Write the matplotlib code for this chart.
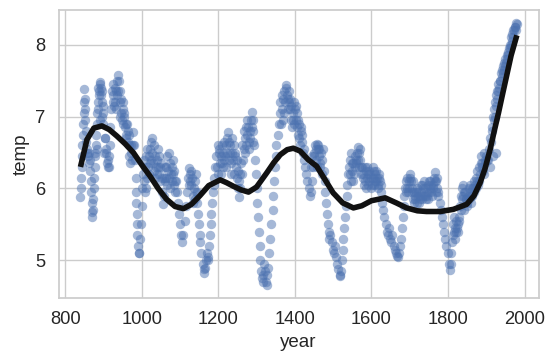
import matplotlib
matplotlib.use("Agg")
import matplotlib.pyplot as plt
import seaborn as sns

# scatter data (year, temp): main trace
year = [
    840, 841, 842, 843, 844, 845, 846, 847, 848, 849, 850, 851, 852, 853, 854, 855, 857, 860, 862, 864,
    866, 867, 868, 869, 870, 871, 873, 874, 875, 876, 877, 878, 880, 881, 882, 884, 886, 888, 890, 892,
    894, 896, 898, 900, 903, 906, 909, 912, 914, 916, 918, 920, 922, 924, 926, 928, 930, 933, 936, 938,
    940, 942, 944, 946, 948, 950, 952, 954, 956, 958, 960, 962, 964, 966, 968, 970, 972, 974, 976, 978,
    980, 982, 984, 985, 986, 987, 988, 989, 990, 992, 994, 996, 998, 1000, 1002, 1004, 1006, 1008,
    1010, 1013, 1016, 1019, 1022, 1025, 1028, 1031, 1034, 1037, 1040, 1043, 1046, 1049, 1052,
    1054, 1056, 1058, 1061, 1064, 1067, 1070, 1073, 1076, 1079, 1082, 1085, 1088, 1091,
    1094, 1097, 1100, 1103, 1106, 1109, 1112, 1115, 1118, 1121, 1124, 1127, 1130, 1133, 1136, 1139,
    1142, 1145, 1147, 1149, 1151, 1153, 1156, 1159, 1162, 1164, 1166, 1168, 1170, 1172, 1174, 1176,
    1178, 1180, 1182, 1184, 1186, 1188, 1190, 1192, 1195, 1198, 1201, 1204, 1207, 1210, 1213, 1216,
    1219, 1222, 1225, 1228, 1231, 1234, 1237, 1240, 1243, 1246, 1249, 1252, 1255, 1258, 1261,
    1264, 1267, 1270, 1273, 1276, 1279, 1282, 1285, 1288, 1290, 1292, 1294, 1296, 1298, 1300,
    1302, 1304, 1306, 1308, 1310, 1312, 1314, 1316, 1318, 1320, 1322, 1324, 1326, 1328,
    1330, 1333, 1336, 1339, 1342, 1344, 1346, 1348, 1350, 1352, 1355, 1358, 1361, 1364, 1367, 1370,
    1373, 1376, 1379, 1382, 1385, 1388, 1391, 1394, 1397, 1400, 1403, 1406, 1409, 1412, 1415, 1418,
    1421, 1424, 1427, 1430, 1433, 1436, 1439, 1442, 1445, 1448, 1451, 1454, 1457, 1460, 1463, 1466,
    1469, 1472, 1475, 1478, 1480, 1482, 1484, 1486, 1488, 1490, 1493, 1496, 1499, 1502, 1505, 1508,
    1511, 1514, 1517, 1519, 1521, 1523, 1525, 1527, 1529, 1531, 1533, 1535, 1537, 1539, 1541, 1544,
    1547, 1550, 1553, 1556, 1559, 1562, 1565, 1568, 1571, 1574, 1577, 1580, 1583, 1586, 1589, 1592,
    1595, 1598, 1601, 1604, 1607, 1610, 1613, 1616, 1619, 1622, 1625, 1628, 1631, 1634, 1637, 1640,
    1643, 1646, 1649, 1652, 1655, 1658, 1661, 1664, 1667, 1670, 1673, 1676, 1678, 1680, 1682, 1684,
    1686, 1688, 1691, 1694, 1697, 1700, 1703, 1706, 1709, 1712, 1715, 1718, 1721, 1724, 1727, 1730,
    1733, 1736, 1739, 1742, 1745, 1748, 1751, 1754, 1757, 1760, 1763, 1766, 1769, 1772, 1775, 1778,
    1781, 1784, 1787, 1790, 1793, 1796, 1799, 1802, 1805, 1807, 1809, 1811, 1813, 1816, 1819, 1822,
    1825, 1828, 1831, 1834, 1837, 1840, 1843, 1846, 1849, 1852, 1855, 1858, 1861, 1864, 1867, 1870,
    1873, 1876, 1880, 1884, 1888, 1892, 1896, 1900, 1902, 1905, 1908, 1911, 1914, 1917, 1920, 1923,
    1926, 1929, 1932, 1935, 1938, 1941, 1944, 1947, 1950, 1953, 1956, 1959, 1962, 1965, 1968, 1971,
    1974, 1977, 1980, 1886, 1894, 1910, 1918, 1926,
]
temp = [
    5.88, 6.0, 6.15, 6.3, 6.45, 6.6, 6.75, 6.9, 7.05, 7.2, 7.38, 7.25, 7.1, 6.95, 6.8, 6.65, 6.5, 6.45, 6.5, 6.4,
    6.25, 6.1, 5.95, 5.8, 5.68, 5.6, 5.7, 5.85, 6.0, 6.15, 6.3, 6.45, 6.6, 6.75, 6.9, 7.05, 7.2, 7.35, 7.48, 7.45,
    7.3, 7.2, 7.05, 6.9, 6.7, 6.5, 6.35, 6.3, 6.45, 6.6, 6.85, 7.1, 7.35, 7.45, 7.3, 7.15, 7.2, 7.35, 7.5, 7.58,
    7.5, 7.35, 7.2, 7.05, 6.95, 7.1, 7.2, 7.0, 6.85, 6.7, 6.75, 6.9, 6.8, 6.6, 6.45, 6.35, 6.5, 6.4, 6.6, 6.78,
    6.6, 6.4, 6.15, 5.95, 5.8, 5.65, 5.5, 5.35, 5.2, 5.1, 5.1, 5.3, 5.5, 5.75, 6.0, 6.2, 6.1, 5.95,
    6.0, 6.15, 6.3, 6.45, 6.55, 6.65, 6.7, 6.6, 6.45, 6.3, 6.4, 6.55, 6.45, 6.3, 6.15,
    5.95, 5.78, 5.9, 6.1, 6.3, 6.45, 6.5, 6.35, 6.2, 6.3, 6.4, 6.25, 6.1, 5.95,
    5.8, 5.65, 5.5, 5.35, 5.25, 5.35, 5.55, 5.75, 5.95, 6.15, 6.28, 6.2, 6.05, 5.9, 6.0, 6.1,
    5.95, 5.8, 5.65, 5.5, 5.35, 5.25, 5.1, 4.95, 4.88, 4.83, 4.9, 5.0, 5.1, 5.0, 5.05, 5.2,
    5.35, 5.5, 5.65, 5.8, 5.95, 6.05, 6.15, 6.3, 6.45, 6.6, 6.5, 6.35, 6.2, 6.35, 6.5, 6.65,
    6.6, 6.7, 6.78, 6.65, 6.5, 6.35, 6.5, 6.6, 6.45, 6.3, 6.15, 6.0, 5.88, 6.0, 6.2,
    6.4, 6.55, 6.7, 6.85, 6.75, 6.65, 6.8, 6.95, 7.07, 6.95, 6.8, 6.6, 6.4, 6.2, 6.0,
    5.8, 5.6, 5.4, 5.2, 5.0, 4.85, 4.75, 4.7, 4.8, 4.95, 4.85, 4.7, 4.66, 4.8,
    4.9, 5.1, 5.3, 5.5, 5.7, 5.9, 6.1, 6.3, 6.45, 6.6, 6.75, 6.9, 7.05, 6.9, 7.1, 7.25,
    7.35, 7.44, 7.3, 7.1, 7.2, 7.1, 6.95, 7.05, 7.2, 7.1, 6.95, 6.85, 6.75, 6.9, 6.8, 6.65,
    6.5, 6.4, 6.3, 6.2, 6.1, 6.0, 5.9, 5.95, 6.1, 6.3, 6.45, 6.55, 6.62, 6.55, 6.45, 6.35,
    6.5, 6.4, 6.25, 6.1, 5.95, 5.8, 5.65, 5.5, 5.4, 5.3, 5.35, 5.25, 5.15, 5.1, 5.2, 5.05,
    4.95, 4.88, 4.8, 4.78, 4.85, 5.0, 5.15, 5.3, 5.45, 5.6, 5.75, 5.9, 6.05, 6.2, 6.3, 6.2,
    6.1, 6.25, 6.35, 6.45, 6.4, 6.5, 6.57, 6.5, 6.4, 6.3, 6.15, 6.05, 6.1, 6.25, 6.3, 6.2,
    6.1, 6.0, 6.05, 6.15, 6.25, 6.2, 6.1, 6.0, 6.15, 6.1, 5.95, 5.8, 5.7, 5.6, 5.5, 5.4,
    5.35, 5.45, 5.3, 5.25, 5.35, 5.2, 5.15, 5.1, 5.06, 5.05, 5.1, 5.2, 5.3, 5.45, 5.6, 5.75,
    5.9, 6.0, 6.1, 6.0, 6.1, 6.2, 6.1, 5.95, 5.85, 5.8, 5.9, 6.0, 5.9, 5.8, 5.85, 5.95,
    6.05, 6.0, 5.9, 5.85, 5.95, 6.05, 6.1, 6.0, 5.95, 6.05, 6.15, 6.23, 6.1, 6.0, 5.9, 5.8,
    5.7, 5.6, 5.5, 5.4, 5.3, 5.2, 5.1, 4.95, 4.86, 4.95, 5.1, 5.25, 5.35, 5.4, 5.3, 5.4,
    5.5, 5.6, 5.75, 5.9, 6.0, 6.05, 5.95, 5.85, 5.8, 5.9, 6.0, 5.95, 5.9, 6.0, 6.1, 6.05,
    6.15, 6.25, 6.1, 6.2, 6.3, 6.25, 6.35, 6.45, 6.4, 6.4, 6.55, 6.7, 6.85, 7.0, 7.1, 7.2,
    7.3, 7.35, 7.45, 7.5, 7.6, 7.65, 7.7, 7.75, 7.8, 7.85, 7.9, 7.95, 8.0, 8.1, 8.15, 8.2,
    8.25, 8.3, 8.28, 6.35, 6.5, 6.3, 6.45, 6.5,
]

# extra points filling the dense clusters
year_fill = [
    858, 863, 879, 883, 885, 887, 889, 891, 893, 895, 897, 899, 902, 905, 908, 911, 915,
    925, 929, 932, 935, 939, 943, 947, 951, 955, 959, 963, 967, 971,
    1005, 1009, 1012, 1015, 1018, 1021, 1024, 1027, 1030, 1033, 1036, 1039, 1042, 1045, 1048, 1051,
    1057, 1060, 1063, 1066, 1069, 1072, 1075, 1078, 1081, 1084, 1087, 1090,
    1123, 1126, 1129, 1132, 1135, 1138, 1141, 1144,
    1197, 1200, 1203, 1206, 1209, 1212, 1215, 1218, 1221, 1224, 1227, 1230, 1233, 1236, 1239, 1242,
    1245, 1248, 1251, 1254, 1257, 1260, 1263, 1266, 1269, 1272, 1275, 1278, 1281, 1284, 1287, 1291,
    1362, 1366, 1369, 1372, 1375, 1378, 1381, 1384, 1387, 1390, 1393, 1396, 1399, 1402, 1405, 1408,
    1411, 1414, 1417, 1420, 1423,
    1443, 1446, 1449, 1452, 1455, 1458, 1461, 1464, 1467, 1470, 1473,
    1543, 1546, 1549, 1552, 1555, 1558, 1561, 1564, 1567, 1570, 1573, 1576, 1579, 1582, 1585, 1588,
    1591, 1594, 1597, 1600, 1603, 1606, 1609, 1612, 1615, 1618, 1621, 1624,
    1690, 1693, 1696, 1699, 1702, 1705, 1708, 1711, 1714, 1717, 1720, 1723, 1726, 1729, 1732, 1735,
    1738, 1741, 1744, 1747, 1750, 1753, 1756, 1759, 1762, 1765, 1768, 1771, 1774,
    1812, 1815, 1818, 1821, 1824, 1827, 1830, 1833, 1836, 1839, 1842, 1845, 1848, 1851, 1854, 1857,
    1860, 1863, 1866, 1869, 1872, 1875, 1878, 1882, 1886, 1890, 1894, 1898,
    1913, 1916, 1919, 1922, 1925, 1928, 1931, 1934, 1937, 1940, 1943, 1946, 1949, 1952, 1955, 1958,
    1961, 1964, 1967, 1970, 1973, 1976, 1979,
]
temp_fill = [
    6.55, 6.35, 6.5, 6.55, 7.4, 7.1, 7.3, 6.95, 7.4, 7.0, 7.35, 7.15, 6.5, 6.7, 6.55, 6.4, 6.3,
    7.2, 7.4, 7.1, 7.3, 7.35, 7.0, 7.25, 6.9, 7.05, 6.9, 6.65, 6.75, 6.6,
    6.4, 6.3, 6.45, 6.55, 6.2, 6.35, 6.4, 6.5, 6.35, 6.25, 6.15, 6.2, 6.3, 6.2, 6.1, 6.35,
    6.15, 6.3, 6.15, 6.05, 6.25, 6.15, 6.0, 6.1, 6.2, 6.05, 5.95, 6.1,
    6.05, 6.1, 6.25, 6.15, 5.8, 5.85, 6.2, 5.95,
    6.3, 6.2, 6.55, 6.45, 6.6, 6.3, 6.4, 6.45, 6.3, 6.5, 6.4, 6.6, 6.2, 6.7, 6.4, 6.2,
    6.5, 6.4, 6.25, 6.1, 6.2, 6.35, 6.6, 6.8, 6.5, 6.6, 6.95, 6.85, 6.55, 6.7, 6.85, 6.65,
    7.2, 7.3, 6.95, 7.05, 7.2, 7.4, 7.25, 7.35, 7.25, 7.15, 6.85, 6.95, 6.9, 7.15, 7.05, 6.95,
    6.7, 6.6, 6.85, 6.75, 6.55,
    6.3, 6.45, 6.5, 6.6, 6.4, 6.3, 6.6, 6.55, 6.3, 6.2, 6.55,
    6.4, 6.5, 6.35, 6.1, 6.2, 6.3, 6.35, 6.4, 6.3, 6.55, 6.2, 6.3, 6.2, 6.3, 6.0, 6.15,
    6.05, 6.25, 6.2, 6.15, 6.3, 6.05, 6.1, 6.25, 6.15, 6.05, 6.2, 6.05,
    5.95, 6.15, 5.95, 6.0, 6.15, 6.0, 6.1, 5.95, 5.85, 5.95, 5.8, 5.95, 5.9, 6.05, 5.85, 5.9,
    6.1, 6.0, 5.9, 5.85, 5.95, 6.1, 6.05, 5.9, 6.0, 6.1, 5.95, 6.15, 5.95,
    5.5, 5.6, 5.45, 5.55, 5.45, 5.4, 5.55, 5.7, 5.85, 5.9, 5.7, 5.95, 5.85, 5.75, 5.85, 6.05,
    5.8, 5.9, 6.0, 5.95, 6.0, 6.1, 6.05, 6.3, 6.45, 6.35, 6.2, 6.4,
    6.65, 6.8, 6.95, 7.0, 7.15, 7.25, 7.35, 7.4, 7.5, 7.55, 7.6, 7.65, 7.7, 7.75, 7.8, 7.85,
    7.95, 8.0, 8.05, 8.1, 8.2, 8.25, 8.2,
]

# smoothed trend line
trend_year = [840, 857, 875, 896, 915, 935, 957, 978, 1000, 1022, 1043, 1065, 1087, 1109, 1130,
              1152, 1175, 1205, 1222, 1240, 1260, 1279, 1300, 1327, 1345, 1362, 1380, 1396, 1414,
              1435, 1457, 1478, 1500, 1525, 1553, 1575, 1600, 1636, 1665, 1692, 1720, 1744, 1780,
              1814, 1849, 1868, 1884, 1897, 1910, 1921, 1932, 1943, 1953, 1965, 1980]
trend_temp = [6.30, 6.68, 6.84, 6.87, 6.82, 6.73, 6.62, 6.50, 6.33, 6.17, 6.00, 5.85, 5.75, 5.72, 5.78,
              5.90, 6.04, 6.12, 6.08, 6.03, 5.98, 5.95, 6.02, 6.22, 6.36, 6.47, 6.54, 6.56, 6.52,
              6.40, 6.31, 6.13, 5.94, 5.80, 5.73, 5.76, 5.83, 5.87, 5.80, 5.73, 5.69, 5.68, 5.68,
              5.71, 5.78, 5.90, 6.08, 6.28, 6.54, 6.80, 7.05, 7.32, 7.56, 7.85, 8.13]

sns.set_theme(style="whitegrid")
plt.rcParams['font.family'] = ['Liberation Sans', 'DejaVu Sans']

fig = plt.figure(figsize=(5.48, 3.56), dpi=100)
ax = fig.add_subplot(111)
fig.subplots_adjust(left=0.107, right=0.983, bottom=0.163, top=0.972)

ax.scatter(year + year_fill, temp + temp_fill, s=46, color="#4C72B0", alpha=0.5, linewidths=0)
ax.plot(trend_year, trend_temp, color="#111111", lw=4, solid_capstyle="butt", zorder=3)

ax.set_xlabel("year", fontsize=13.5)
ax.set_ylabel("temp", fontsize=13.5)
ax.tick_params(labelsize=13.2)
ax.set_yticks([5, 6, 7, 8])

fig.savefig("out.png", dpi=100)
